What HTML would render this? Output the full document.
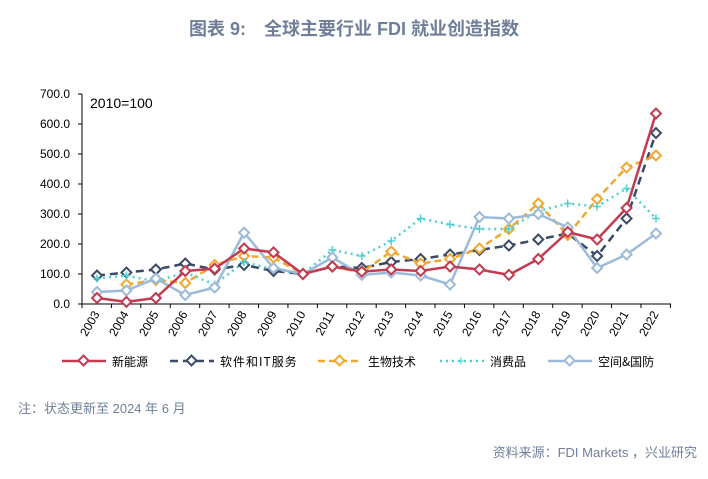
<!DOCTYPE html>
<html><head><meta charset="utf-8"><style>
body{margin:0;width:708px;height:474px;background:#fff;overflow:hidden;font-family:"Liberation Sans","Noto Sans CJK SC",sans-serif}
</style></head><body>
<svg width="708" height="474" xmlns="http://www.w3.org/2000/svg" font-family="Liberation Sans, Noto Sans CJK SC, sans-serif">
<text x="354" y="35" text-anchor="middle" font-size="18" font-weight="bold" fill="#6f7f99">图表 9:　全球主要行业 FDI 就业创造指数</text>
<g font-size="12" fill="#000" text-anchor="end">
<text x="70" y="98">700.0</text><text x="70" y="128">600.0</text><text x="70" y="158">500.0</text><text x="70" y="188">400.0</text><text x="70" y="218">300.0</text><text x="70" y="248">200.0</text><text x="70" y="278">100.0</text><text x="70" y="308">0.0</text>
</g>
<text x="90" y="108" font-size="14">2010=100</text>
<g stroke="#000" stroke-width="1">
<line x1="82" y1="94" x2="82" y2="304"/><line x1="82" y1="304" x2="671" y2="304"/>
<g id="yt"></g><g id="xt"></g>
</g>
<g id="series"></g>
<g font-size="12" fill="#000" id="xl"></g>
<g font-size="12" font-family="Noto Sans CJK SC, sans-serif">
<line x1="62" y1="361" x2="106" y2="361" stroke="#c23b50" stroke-width="2.5"/><rect x="80" y="357" width="7" height="7" transform="rotate(45 83.5 360.5)" fill="#fff" stroke="#c23b50" stroke-width="2"/><text x="112" y="366">新能源</text>
<line x1="170" y1="361" x2="214" y2="361" stroke="#3b4a66" stroke-width="2.5" stroke-dasharray="8,5"/><rect x="188" y="357" width="7" height="7" transform="rotate(45 191.5 360.5)" fill="#fff" stroke="#3b4a66" stroke-width="2"/><text x="220" y="366" letter-spacing="1">软件和IT服务</text>
<line x1="318" y1="361" x2="362" y2="361" stroke="#f0a830" stroke-width="2.5" stroke-dasharray="7,4"/><rect x="336" y="357" width="7" height="7" transform="rotate(45 339.5 360.5)" fill="#fff" stroke="#f0a830" stroke-width="2"/><text x="368" y="366">生物技术</text>
<line x1="440" y1="361" x2="484" y2="361" stroke="#4fd0d0" stroke-width="2.5" stroke-dasharray="2,4"/><text x="457" y="366" fill="#4fd0d0" font-size="14">+</text><text x="490" y="366">消费品</text>
<line x1="548" y1="361" x2="592" y2="361" stroke="#9dbbd8" stroke-width="2.5"/><rect x="566" y="357" width="7" height="7" transform="rotate(45 569.5 360.5)" fill="#fff" stroke="#9dbbd8" stroke-width="2"/><text x="598" y="366">空间&amp;国防</text>
</g>
<text x="18" y="413" font-size="13" fill="#6f7f99">注：状态更新至 2024 年 6 月</text>
<text x="697" y="457" font-size="13" fill="#6f7f99" text-anchor="end">资料来源：FDI Markets ，兴业研究</text>
<g font-size="12" fill="#000">
<text transform="translate(100,314) rotate(-60)" text-anchor="end">2003</text>
<text transform="translate(129,314) rotate(-60)" text-anchor="end">2004</text>
<text transform="translate(159,314) rotate(-60)" text-anchor="end">2005</text>
<text transform="translate(188,314) rotate(-60)" text-anchor="end">2006</text>
<text transform="translate(218,314) rotate(-60)" text-anchor="end">2007</text>
<text transform="translate(247,314) rotate(-60)" text-anchor="end">2008</text>
<text transform="translate(277,314) rotate(-60)" text-anchor="end">2009</text>
<text transform="translate(306,314) rotate(-60)" text-anchor="end">2010</text>
<text transform="translate(335,314) rotate(-60)" text-anchor="end">2011</text>
<text transform="translate(365,314) rotate(-60)" text-anchor="end">2012</text>
<text transform="translate(394,314) rotate(-60)" text-anchor="end">2013</text>
<text transform="translate(424,314) rotate(-60)" text-anchor="end">2014</text>
<text transform="translate(453,314) rotate(-60)" text-anchor="end">2015</text>
<text transform="translate(482,314) rotate(-60)" text-anchor="end">2016</text>
<text transform="translate(512,314) rotate(-60)" text-anchor="end">2017</text>
<text transform="translate(541,314) rotate(-60)" text-anchor="end">2018</text>
<text transform="translate(571,314) rotate(-60)" text-anchor="end">2019</text>
<text transform="translate(600,314) rotate(-60)" text-anchor="end">2020</text>
<text transform="translate(629,314) rotate(-60)" text-anchor="end">2021</text>
<text transform="translate(659,314) rotate(-60)" text-anchor="end">2022</text>
</g>
</svg>
<script>
const NS="http://www.w3.org/2000/svg";
function el(t,a,p){const e=document.createElementNS(NS,t);for(const k in a)e.setAttribute(k,a[k]);p.appendChild(e);return e;}
const yt=document.getElementById('yt'),xt=document.getElementById('xt');
for(let i=0;i<=7;i++)el('line',{x1:78,x2:82,y1:94+30*i,y2:94+30*i},yt);
for(let i=0;i<=20;i++){const x=82+29.42*i;el('line',{x1:x,x2:x,y1:304,y2:308},xt);}
const X=i=>97+29.42*i,Y=v=>304-0.3*v;
const S=[
{c:"#3b4a66",d:"8,5",m:"d",v:[95,105,115,135,115,130,110,100,125,120,140,150,165,180,195,215,235,160,285,570]},
{c:"#f0a830",d:"7,4",m:"d",v:[null,65,80,70,130,160,155,100,125,105,175,135,150,185,250,335,230,350,455,495]},
{c:"#4fd0d0",d:"2,4",m:"p",v:[85,95,75,105,65,140,115,100,180,160,210,285,265,250,250,310,335,325,385,285]},
{c:"#9dbbd8",d:"",m:"d",v:[40,45,85,30,55,238,120,100,155,97,105,95,65,290,285,300,255,120,165,235]},
{c:"#c23b50",d:"",m:"d",v:[20,7,20,110,118,185,172,100,125,108,115,110,125,115,97,150,240,215,320,635]}
];
const g=document.getElementById('series');
S.forEach(s=>{let pts=[];s.v.forEach((v,i)=>{if(v!=null)pts.push(X(i)+","+Y(v));});
el('polyline',{points:pts.join(" "),fill:"none",stroke:s.c,"stroke-width":2.5,"stroke-dasharray":s.d},g);
s.v.forEach((v,i)=>{if(v==null)return;const x=X(i),y=Y(v);
if(s.m=="d")el('rect',{x:x-3.5,y:y-3.5,width:7,height:7,transform:`rotate(45 ${x} ${y})`,fill:"#fff",stroke:s.c,"stroke-width":2},g);
else{el('line',{x1:x-4,x2:x+4,y1:y,y2:y,stroke:s.c,"stroke-width":1.5},g);el('line',{x1:x,x2:x,y1:y-4,y2:y+4,stroke:s.c,"stroke-width":1.5},g);}});});
</script>
</body></html>
